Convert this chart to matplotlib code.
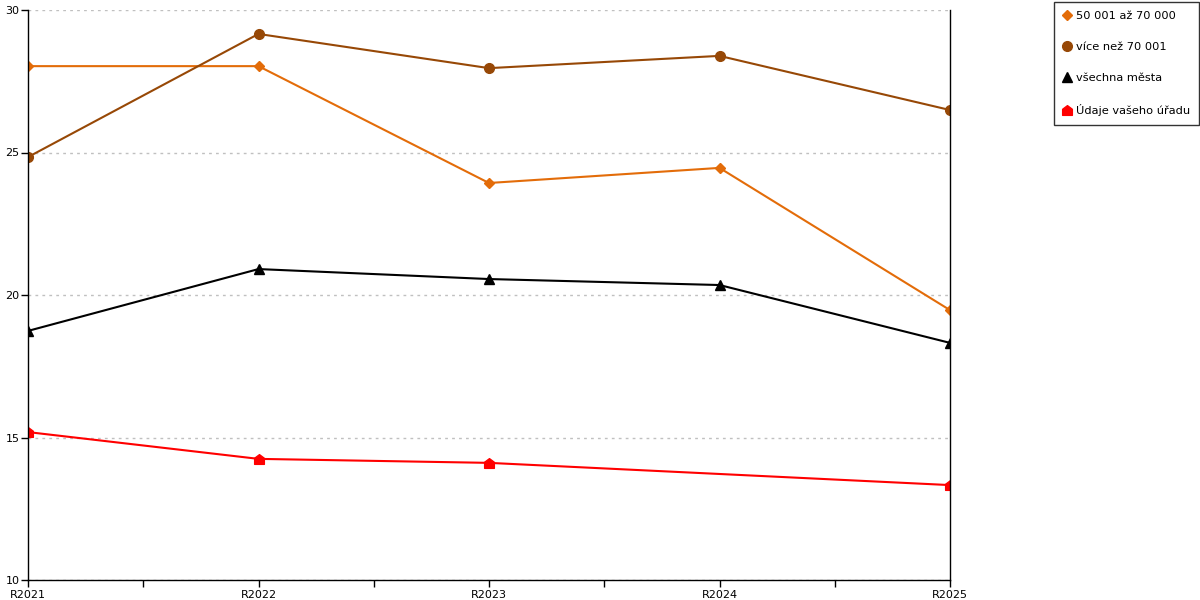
import numpy as np
import matplotlib
matplotlib.use('Agg')
import matplotlib.pyplot as plt
from matplotlib.path import Path

# data
roky = ['R2021', 'R2022', 'R2023', 'R2024', 'R2025']
mesta_50_70 = [28.03, 28.03, 23.93, 24.46, 19.47]
mesta_nad_70 = [24.84, 29.16, 27.96, 28.39, 26.49]
vsechna_mesta = [18.74, 20.91, 20.56, 20.35, 18.32]
vas_urad = [15.19, 14.25, 14.11, np.nan, 13.33]

# marker "domecek" (ctverec se strechou)
domek = Path([(-1, -1), (1, -1), (1, 0.25), (0, 1), (-1, 0.25), (-1, -1)],
             [Path.MOVETO, Path.LINETO, Path.LINETO, Path.LINETO, Path.LINETO, Path.CLOSEPOLY])

fig = plt.figure(figsize=(12, 6), dpi=100)
ax = fig.add_axes([28/1200, 20/600, 922/1200, 570/600])

x = np.arange(len(roky))

def kresli(y, barva, marker, ms, label):
    y = np.array(y, dtype=float)
    ok = ~np.isnan(y)
    ax.plot(x[ok], y[ok], color=barva, lw=1.5, marker=marker, ms=ms,
            markeredgecolor=barva, markerfacecolor=barva, label=label)

kresli(mesta_50_70, '#e36c09', 'D', 5.5, '50 001 až 70 000')
kresli(mesta_nad_70, '#974806', 'o', 7, 'více než 70 001')
kresli(vsechna_mesta, '#000000', '^', 7, 'všechna města')
kresli(vas_urad, '#ff0000', domek, 7, 'Údaje vašeho úřadu')

ax.set_xlim(0, len(roky) - 1)
ax.set_ylim(10, 30)
ax.set_yticks([10, 15, 20, 25, 30])
ax.set_xticks(x)
ax.set_xticklabels(roky)
ax.set_xticks(x[:-1] + 0.5, minor=True)
ax.tick_params(axis='x', which='both', length=5, width=1, labelsize=8, pad=2)
ax.tick_params(axis='y', length=5, width=1, labelsize=8, pad=1)

ax.grid(axis='y', color='#c0c0c0', linestyle=(0, (2, 3)), lw=1)
ax.set_axisbelow(True)
ax.spines['top'].set_visible(False)
for s in ['left', 'bottom', 'right']:
    ax.spines[s].set_color('black')
    ax.spines[s].set_linewidth(1)

leg = fig.legend(loc='upper left', bbox_to_anchor=(1054/1200, 1 - 2/600),
                 borderaxespad=0, fontsize=8.2, frameon=True, fancybox=False,
                 edgecolor='black', labelspacing=1.85, handlelength=0.6,
                 handletextpad=0.5, borderpad=0.8, markerscale=1.0)
leg.get_frame().set_linewidth(1)
for h in leg.get_lines():
    h.set_linestyle('none')

fig.savefig('out.png', dpi=100)
